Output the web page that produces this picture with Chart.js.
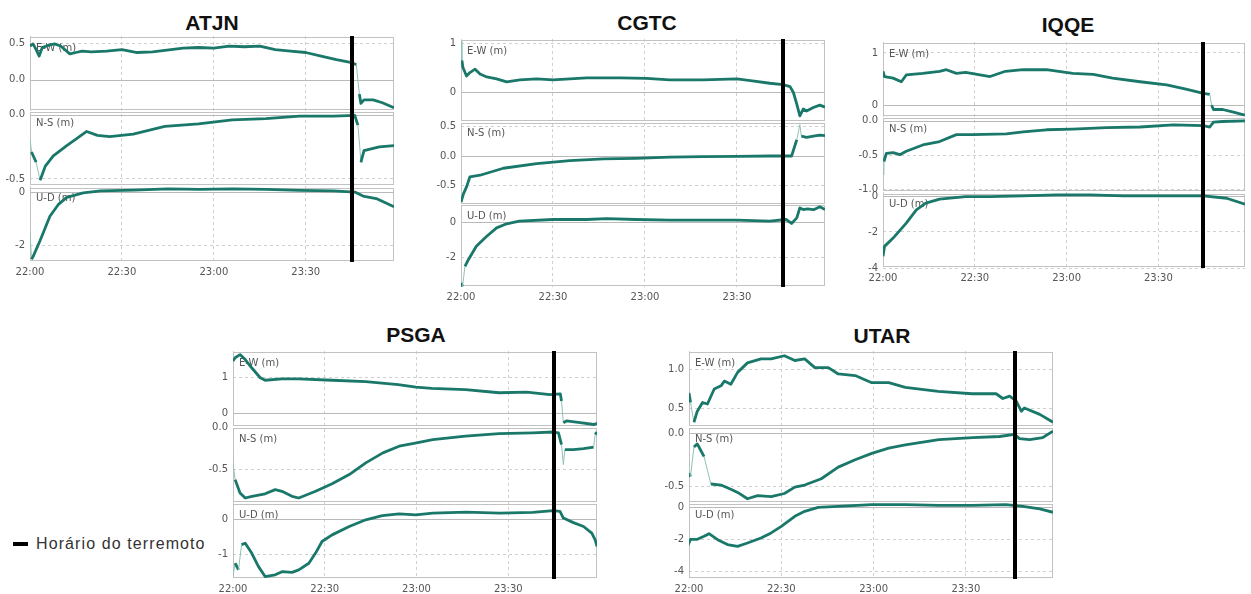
<!DOCTYPE html>
<html>
<head>
<meta charset="utf-8">
<script src="https://cdn.jsdelivr.net/npm/chart.js@4.4.1/dist/chart.umd.min.js"></script>
<style>
  body { margin: 0; background: #fff; width: 1251px; height: 594px; position: relative; overflow: hidden; font-family: 'Liberation Sans', Arial, sans-serif; }
  .title { position: absolute; font-weight: bold; font-size: 21px; line-height: 21px; color: #111; transform: translateX(-50%); white-space: nowrap; }
  canvas { position: absolute; }
  #legendBar { position: absolute; left: 13px; top: 542px; width: 15px; height: 4px; background: #000; }
  #legendText { position: absolute; left: 36px; top: 536px; font-size: 16px; line-height: 16px; letter-spacing: 1.1px; color: #333; white-space: nowrap; }
</style>
</head>
<body>
<div id="legendBar"></div>
<div id="legendText">Horário do terremoto</div>
<script>
// eixo de tempo: minutos desde 22:00
const TIME_MINUTES = [0, 30, 60, 90];
const TIME_LABELS = ['22:00', '22:30', '23:00', '23:30'];
const COMPONENTS = ['E-W (m)', 'N-S (m)', 'U-D (m)'];

// ATJN  [minuto, metros]
const atjnEW = [[0,0.47],[1,0.5],[2,0.42],[3,0.33],[4,0.45],[6,0.48],[8,0.5],[10,0.47],[13,0.36],[15,0.38],[17,0.40],[20,0.39],[25,0.40],[30,0.42],[35,0.38],[40,0.39],[50,0.44],[55,0.45],[60,0.44],[65,0.47],[70,0.46],[75,0.47],[80,0.42],[85,0.40],[90,0.38],[95,0.33],[100,0.28],[105,0.24],[106.5,0.21],[107,0.0],[107.5,-0.2],[108,-0.33],[109,-0.28],[112,-0.28],[115,-0.32],[118.8,-0.39]];
const atjnNS = [[0,-0.19],[0.5,-0.29],[2,-0.37],[3.3,-0.51],[5,-0.40],[7.6,-0.32],[12,-0.24],[15,-0.19],[18.5,-0.13],[22,-0.16],[26,-0.17],[33.7,-0.15],[44,-0.09],[55,-0.07],[66,-0.04],[77,-0.03],[88,-0.01],[99,-0.01],[106,-0.005],[107,-0.08],[107.6,-0.24],[108,-0.37],[109,-0.28],[114,-0.25],[118.8,-0.24]];
const atjnUD = [[0,-1.5],[0.5,-2.5],[1,-2.4],[3.3,-1.8],[6.5,-0.9],[9.2,-0.47],[12,-0.2],[17.4,-0.03],[23,0.04],[34,0.07],[45,0.12],[55.4,0.1],[66,0.12],[77,0.1],[88,0.06],[99,0.04],[106,0.0],[108.7,-0.15],[113,-0.24],[116,-0.4],[118.8,-0.55]];

// CGTC
const cgtcEW = [[0,1.05],[0.3,0.66],[0.6,0.52],[1.8,0.34],[2.9,0.41],[4.6,0.48],[6.2,0.38],[8.4,0.32],[11.6,0.28],[14.9,0.22],[19.2,0.26],[24.7,0.28],[30,0.26],[41,0.3],[52,0.3],[60.5,0.29],[68,0.26],[79,0.26],[90,0.28],[95,0.24],[100.7,0.19],[105,0.16],[107.3,0.12],[108.4,0.0],[109.5,-0.24],[110.5,-0.48],[111.6,-0.34],[112.7,-0.38],[114.9,-0.31],[117,-0.26],[118.7,-0.3]];
const cgtcNS = [[0,-0.79],[0.8,-0.65],[1.8,-0.53],[2.9,-0.36],[6.2,-0.33],[13.8,-0.21],[24.7,-0.13],[35.5,-0.08],[46.4,-0.05],[57,-0.04],[68,-0.02],[79,-0.01],[90,-0.005],[100.7,0],[107.8,0],[109.5,0.28],[110.5,0.54],[111,0.34],[112.7,0.32],[114.9,0.34],[117,0.36],[118.7,0.35]];
const cgtcUD = [[0,-3.4],[0.5,-3.6],[1.3,-2.47],[2.4,-2.1],[5,-1.35],[8.4,-0.79],[11.6,-0.32],[14.9,-0.09],[19,0.06],[30,0.15],[41,0.15],[47.5,0.2],[57,0.15],[68,0.11],[79,0.11],[90,0.11],[100.7,0.06],[106,0.15],[107.8,-0.07],[109.5,0.24],[110.5,0.8],[111.6,0.71],[113,0.75],[115,0.7],[117,0.86],[118.7,0.71]];

// IQQE
const iqqeEW = [[0,0.65],[0.5,0.55],[3.3,0.52],[6,0.45],[7.6,0.58],[13,0.61],[18.5,0.65],[20.7,0.68],[24,0.61],[27,0.63],[35,0.55],[40,0.65],[45.8,0.68],[53.4,0.68],[62,0.61],[68.7,0.59],[75,0.52],[84,0.45],[92.7,0.39],[99,0.31],[104.7,0.23],[106.8,0.21],[107.4,0.0],[108,-0.08],[111,-0.08],[114.5,-0.13],[118.3,-0.19]];
const iqqeNS = [[0,-0.78],[0.3,-0.59],[1.1,-0.47],[3.3,-0.46],[5.5,-0.49],[7.6,-0.44],[13,-0.35],[18.5,-0.3],[24,-0.2],[29.4,-0.2],[40.3,-0.19],[45.8,-0.16],[53.4,-0.13],[62,-0.12],[73,-0.1],[84,-0.09],[94.9,-0.06],[104.7,-0.07],[106.8,-0.09],[108,-0.02],[111,-0.01],[118.3,0]];
const iqqeUD = [[0,-3.35],[0.5,-2.8],[3.3,-2.34],[7.6,-1.51],[10.9,-0.77],[14,-0.4],[18.5,-0.18],[27,-0.04],[34.9,-0.04],[45.8,0],[56.7,0.06],[67.6,0.06],[78.5,0],[89.4,0],[104.7,0],[112.3,-0.13],[118.3,-0.46]];

// PSGA
const psgaEW = [[0,1.47],[0.7,1.56],[2.3,1.65],[4,1.51],[6.1,1.28],[8.9,1.0],[10.5,0.93],[16,0.97],[21.5,0.97],[32.4,0.93],[43.4,0.89],[54,0.81],[59.8,0.74],[65,0.7],[76,0.67],[87,0.58],[96,0.6],[103.6,0.53],[107,0.55],[107.4,0.35],[108,-0.26],[109,-0.21],[113.5,-0.26],[118,-0.31],[119,-0.28]];
const psgaNS = [[0,-0.42],[0.7,-0.62],[2.3,-0.78],[4,-0.84],[6.2,-0.82],[10.5,-0.79],[13.8,-0.74],[16,-0.76],[19.3,-0.82],[21.5,-0.84],[27,-0.76],[32.4,-0.67],[38,-0.56],[43.4,-0.42],[49,-0.3],[54.3,-0.22],[60,-0.18],[65.3,-0.14],[76,-0.1],[87,-0.07],[98,-0.06],[104.7,-0.05],[106.4,-0.06],[107.4,-0.2],[108,-0.44],[108.5,-0.26],[111.3,-0.26],[114.6,-0.25],[117.9,-0.23],[118.4,-0.08],[119,-0.05]];
const psgaUD = [[0,-1.64],[0.7,-1.26],[1.8,-1.45],[2.8,-0.73],[4,-0.69],[6.1,-0.97],[8.3,-1.35],[10.5,-1.64],[13.8,-1.59],[16,-1.5],[19.3,-1.52],[21.5,-1.45],[24.8,-1.26],[27,-0.97],[29.1,-0.64],[32.4,-0.45],[38,-0.21],[43.4,-0.02],[48.8,0.1],[54.3,0.15],[59.8,0.12],[65.3,0.17],[76.2,0.2],[87.2,0.17],[98,0.19],[104.7,0.24],[106.9,0.22],[108,0.03],[111.3,-0.1],[114.6,-0.21],[117.3,-0.4],[118.4,-0.59],[119,-0.78]];

// UTAR
const utarEW = [[-0.5,0.47],[0,0.7],[0.5,0.58],[1.6,0.33],[2.7,0.47],[4.4,0.58],[6,0.56],[8.2,0.75],[10.4,0.79],[11.5,0.85],[13.6,0.81],[15.8,0.96],[19,1.08],[23.4,1.13],[26.7,1.13],[31,1.17],[34.4,1.11],[37.6,1.13],[40.9,1.02],[45.3,1.02],[48.5,0.94],[54,0.92],[59.4,0.83],[64.9,0.83],[70.3,0.77],[81,0.72],[92,0.69],[99.8,0.69],[102,0.63],[104.2,0.66],[106.3,0.6],[108,0.47],[109,0.51],[114,0.43],[118.3,0.33]];
const utarNS = [[-0.5,-0.22],[0,-0.38],[0.5,-0.41],[1.6,-0.13],[2.7,-0.1],[3.8,-0.16],[4.9,-0.22],[6,-0.35],[7.1,-0.48],[10.4,-0.49],[13.6,-0.53],[15.8,-0.56],[19,-0.62],[22.3,-0.59],[26.7,-0.6],[31,-0.57],[34.4,-0.51],[37.6,-0.49],[43,-0.43],[48.5,-0.32],[54,-0.25],[59.4,-0.19],[64.9,-0.14],[70.3,-0.11],[81.2,-0.06],[92.2,-0.04],[100.9,-0.03],[105.8,-0.01],[107.4,-0.05],[110.7,-0.06],[115,-0.04],[118.3,0.02]];
const utarUD = [[-0.5,-2.44],[0.5,-2.0],[2.7,-2.0],[4.9,-1.81],[6.5,-1.65],[9.3,-2.02],[12.5,-2.33],[15.8,-2.44],[19,-2.23],[23.4,-1.92],[26.7,-1.6],[30,-1.19],[34.4,-0.56],[37.6,-0.25],[42,0],[48.5,0.06],[59.4,0.17],[70.3,0.17],[81.2,0.12],[92.2,0.12],[103,0.17],[108.5,0.06],[114,-0.1],[118.3,-0.31]];

// limites dos eixos y [min, max] e rótulos dos ticks (E-W, N-S, U-D)
const atjnRanges = [[-0.44, 0.61], [-0.56, 0.027], [-2.6, 0.2]];
const atjnTicks = [['0.5', '0.0'], ['0.0', '-0.5'], ['0', '-2']];
const cgtcRanges = [[-0.6, 1.1], [-0.83, 0.59], [-3.63, 1.0]];
const cgtcTicks = [['1', '0'], ['0.5', '0.0', '-0.5'], ['0', '-2']];
const iqqeRanges = [[-0.23, 1.21], [-1.04, 0.05], [-4.0, 0.18]];
const iqqeTicks = [['1', '0'], ['0.0', '-0.5', '-1.0'], ['0', '-2', '-4']];
const psgaRanges = [[-0.38, 1.75], [-0.9, 0.01], [-1.71, 0.46]];
const psgaTicks = [['1', '0'], ['0.0', '-0.5'], ['0', '-1']];
const utarRanges = [[0.27, 1.23], [-0.66, 0.06], [-4.48, 0.27]];
const utarTicks = [['1.0', '0.5'], ['0.0', '-0.5'], ['0', '-2', '-4']];

// horário do terremoto (minutos desde 22:00) e fim do eixo x
const quakeMinutes = [105, 105, 104.7, 105, 106];
const xMaxMinutes = [118.8, 118.7, 118.3, 119, 118.3];

const stations = [
  { name: 'ATJN', series: [atjnEW, atjnNS, atjnUD], ranges: atjnRanges, ticks: atjnTicks },
  { name: 'CGTC', series: [cgtcEW, cgtcNS, cgtcUD], ranges: cgtcRanges, ticks: cgtcTicks },
  { name: 'IQQE', series: [iqqeEW, iqqeNS, iqqeUD], ranges: iqqeRanges, ticks: iqqeTicks },
  { name: 'PSGA', series: [psgaEW, psgaNS, psgaUD], ranges: psgaRanges, ticks: psgaTicks },
  { name: 'UTAR', series: [utarEW, utarNS, utarUD], ranges: utarRanges, ticks: utarTicks }
];

// posição de cada painel na página (área do gráfico e título)
const panelBoxes = [
  { left: 30, top: 35, w: 364, h: 227, tx: 212, ty: 22 },
  { left: 461, top: 38, w: 364, h: 249, tx: 647, ty: 22 },
  { left: 883, top: 41, w: 362, h: 227, tx: 1068, ty: 24 },
  { left: 233, top: 350, w: 364, h: 229, tx: 416, ty: 334 },
  { left: 689, top: 350, w: 364, h: 229, tx: 882, ty: 335 }
];

const Y_W = 30;   // largura do eixo y
const X_H = 18;   // altura do eixo x
const PAD_T = 10;
const PAD_R = 4;
const LINE = '#19786a';
const LINE_LIGHT = '#8fc2b8';
const TICK_FONT = { family: 'DejaVu Sans', size: 10 };
const Y_IDS = ['yEW', 'yNS', 'yUD'];

// salto quase vertical (sem amostras no meio) -> linha fina
function isJump(c) {
  const dx = Math.abs(c.p1.x - c.p0.x);
  const dy = Math.abs(c.p1.y - c.p0.y);
  return dy > 10 && dy > 4 * dx;
}

// desenha caixas, linha do zero, rótulos e a linha do terremoto
const framePlugin = {
  id: 'frame',
  beforeDatasetsDraw(chart) {
    const ctx = chart.ctx;
    const a = chart.chartArea;
    ctx.save();
    Y_IDS.forEach((id, i) => {
      const s = chart.scales[id];
      if (s.min < 0 && s.max > 0) {
        const y = Math.round(s.getPixelForValue(0)) + 0.5;
        ctx.strokeStyle = '#b9b9b9';
        ctx.lineWidth = 1;
        ctx.beginPath();
        ctx.moveTo(a.left, y);
        ctx.lineTo(a.right, y);
        ctx.stroke();
      }
      ctx.strokeStyle = '#c2c2c2';
      ctx.lineWidth = 1;
      ctx.strokeRect(a.left + 0.5, Math.round(s.top) + 1.5, a.right - a.left - 1, Math.round(s.bottom - s.top) - 3);
      ctx.fillStyle = '#555';
      ctx.font = '10px "DejaVu Sans"';
      ctx.textBaseline = 'middle';
      ctx.fillText(COMPONENTS[i], a.left + 6, s.top + 12);
    });
    ctx.restore();
  },
  afterDatasetsDraw(chart, args, opts) {
    const ctx = chart.ctx;
    const a = chart.chartArea;
    const x = chart.scales.x.getPixelForValue(opts.quake);
    ctx.save();
    ctx.fillStyle = '#000';
    ctx.fillRect(Math.round(x) - 2, a.top, 4, a.bottom - a.top);
    ctx.restore();
  }
};

function yScale(range, labels) {
  return {
    type: 'linear', position: 'left', stack: 'comp', stackWeight: 1, offset: false,
    min: range[0], max: range[1],
    afterBuildTicks: s => { s.ticks = labels.map(l => ({ value: parseFloat(l) })); },
    afterFit: s => { s.width = Y_W; },
    ticks: { callback: (v, i) => labels[i], font: TICK_FONT, color: '#555', padding: 5, autoSkip: false },
    grid: { color: c => (c.tick && c.tick.value === 0) ? 'rgba(0,0,0,0)' : '#d0d0d0', drawTicks: false },
    border: { display: false, dash: [3, 3] }
  };
}

stations.forEach((st, k) => {
  const box = panelBoxes[k];

  const title = document.createElement('div');
  title.className = 'title';
  title.textContent = st.name;
  title.style.left = box.tx + 'px';
  title.style.top = (box.ty - 10.5) + 'px';
  document.body.appendChild(title);

  const canvas = document.createElement('canvas');
  canvas.width = Y_W + box.w + PAD_R;
  canvas.height = PAD_T + box.h + X_H;
  canvas.style.left = (box.left - Y_W) + 'px';
  canvas.style.top = (box.top - PAD_T) + 'px';
  document.body.appendChild(canvas);

  const datasets = st.series.map((pts, i) => ({
    data: pts.map(p => ({ x: p[0], y: p[1] })),
    yAxisID: Y_IDS[i],
    borderColor: LINE,
    borderWidth: 2.8,
    borderJoinStyle: 'round',
    pointRadius: 0,
    tension: 0,
    segment: {
      borderWidth: c => isJump(c) ? 1 : 2.8,
      borderColor: c => isJump(c) ? LINE_LIGHT : LINE
    }
  }));

  new Chart(canvas, {
    type: 'line',
    data: { datasets: datasets },
    options: {
      responsive: false,
      animation: false,
      events: [],
      layout: { padding: { top: PAD_T, right: PAD_R, left: 0, bottom: 0 } },
      plugins: { legend: { display: false }, tooltip: { enabled: false }, frame: { quake: quakeMinutes[k] } },
      scales: {
        x: {
          type: 'linear', min: 0, max: xMaxMinutes[k],
          afterBuildTicks: s => { s.ticks = TIME_MINUTES.map(v => ({ value: v })); },
          afterFit: s => { s.height = X_H; },
          ticks: { callback: (v, i) => TIME_LABELS[i], font: TICK_FONT, color: '#555', padding: 4, maxRotation: 0, autoSkip: false },
          grid: { color: '#d0d0d0', drawTicks: false },
          border: { display: false, dash: [3, 3] }
        },
        // a última escala declarada fica no topo da pilha
        yUD: yScale(st.ranges[2], st.ticks[2]),
        yNS: yScale(st.ranges[1], st.ticks[1]),
        yEW: yScale(st.ranges[0], st.ticks[0])
      }
    },
    plugins: [framePlugin]
  });
});
</script>
</body>
</html>
